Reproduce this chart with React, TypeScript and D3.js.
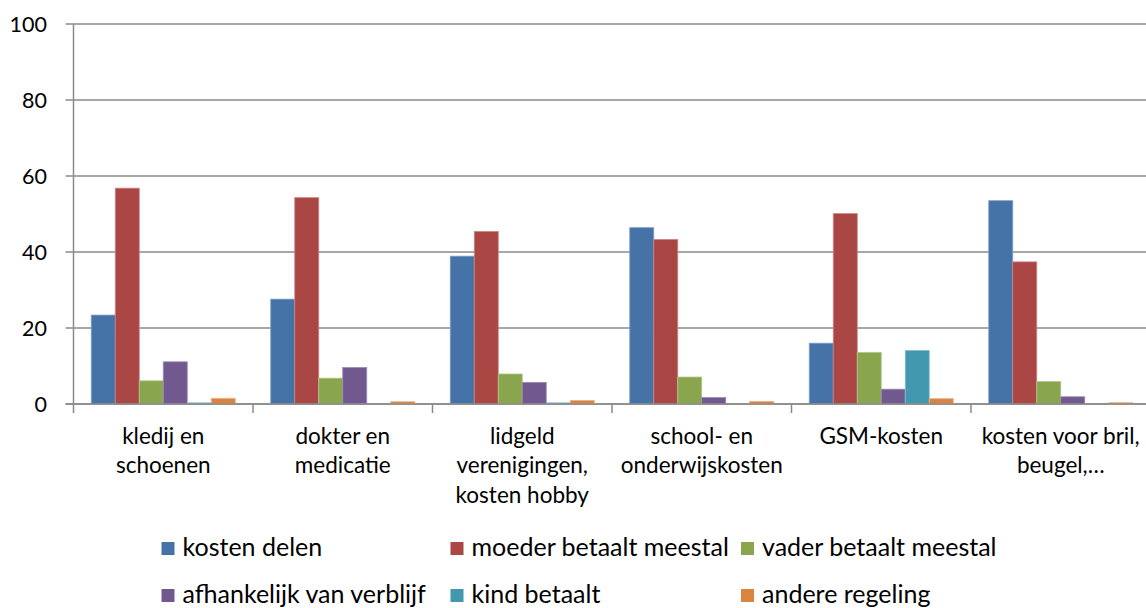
import React from "react";
import * as d3 from "d3";

const categories: string[][] = [
  ["kledij en", "schoenen"],
  ["dokter en", "medicatie"],
  ["lidgeld", "verenigingen,", "kosten hobby"],
  ["school- en", "onderwijskosten"],
  ["GSM-kosten"],
  ["kosten voor bril,", "beugel,…"],
];
const categoryKeys = ["c1", "c2", "c3", "c4", "c5", "c6"];

const seriesNames = [
  "kosten delen",
  "moeder betaalt meestal",
  "vader betaalt meestal",
  "afhankelijk van verblijf",
  "kind betaalt",
  "andere regeling",
];
const seriesColors = ["#4572A7", "#AA4643", "#89A54E", "#71588F", "#4198AF", "#DB843D"];
const seriesStroke = ["#7f9ec6", "#c98684", "#b1c98f", "#9d89b6", "#86c0d0", "#eab48a"];

const kostenDelen = [23.4, 27.6, 38.9, 46.4, 16.0, 53.5];
const moederBetaalt = [56.8, 54.3, 45.4, 43.3, 50.1, 37.4];
const vaderBetaalt = [6.1, 6.8, 7.9, 7.1, 13.6, 5.9];
const afhankelijk = [11.1, 9.6, 5.7, 1.7, 3.9, 1.9];
const kindBetaalt = [0.3, 0, 0.3, 0, 14.1, 0];
const andereRegeling = [1.5, 0.6, 0.95, 0.7, 1.4, 0.35];

const seriesValues = [kostenDelen, moederBetaalt, vaderBetaalt, afhankelijk, kindBetaalt, andereRegeling];

const yTicks = [0, 20, 40, 60, 80, 100];

const W = 1146;
const H = 608;
const left = 73.5;
const right = 1150.5;
const top = 24;
const bottom = 404;
const font = "Lato, 'Open Sans', sans-serif";
const grid = "#8a8a8a";

export default function App() {
  const x0 = d3.scaleBand<string>().domain(categoryKeys).range([left, right]).padding(0);
  const x1 = d3
    .scaleBand<number>()
    .domain(d3.range(seriesNames.length))
    .range([0, x0.bandwidth()])
    .paddingInner(0)
    .paddingOuter(0.74);
  const y = d3.scaleLinear().domain([0, 100]).range([bottom, top]);

  const legendCols = [161.5, 450.5, 741];
  const legendRows = [548.5, 595.5];

  return (
    <svg
      width={W}
      height={H}
      style={{ position: "absolute", left: 0, top: 0, background: "#fff" }}
      fontFamily={font}
    >
      {/* gridlines */}
      {yTicks.map((t) => (
        <g key={"g" + t}>
          <line x1={left - 8} x2={right} y1={y(t)} y2={y(t)} stroke={grid} strokeWidth={1.5} />
          <text x={47} y={y(t)} dy="0.35em" textAnchor="end" fontSize={21.5} fill="#000">
            {t}
          </text>
        </g>
      ))}
      {/* y axis */}
      <line x1={left} x2={left} y1={top} y2={bottom} stroke={grid} strokeWidth={1.5} />
      {/* x ticks */}
      {categoryKeys.map((k) => (
        <line
          key={"t" + k}
          x1={x0(k)!}
          x2={x0(k)!}
          y1={bottom}
          y2={bottom + 9}
          stroke={grid}
          strokeWidth={1.5}
        />
      ))}
      {/* bars */}
      {categoryKeys.map((k, ci) =>
        seriesValues.map((vals, si) => {
          const v = vals[ci];
          if (v <= 0) return null;
          const bx = x0(k)! + x1(si)!;
          return (
            <rect
              key={k + si}
              x={bx}
              y={y(v)}
              width={x1.bandwidth()}
              height={bottom - y(v)}
              fill={seriesColors[si]}
              stroke={seriesStroke[si]}
              strokeWidth={0.8}
            />
          );
        })
      )}
      {/* baseline over bars */}
      <line x1={left - 8} x2={right} y1={bottom} y2={bottom} stroke={grid} strokeWidth={1.5} />
      {/* category labels */}
      {categoryKeys.map((k, ci) => (
        <text
          key={"l" + k}
          x={x0(k)! + x0.bandwidth() / 2}
          y={436}
          textAnchor="middle"
          fontSize={22.5}
          fill="#000"
        >
          {categories[ci].map((line, li) => (
            <tspan key={li} x={x0(k)! + x0.bandwidth() / 2} y={436 + li * 29.5} dy="0.35em">
              {line}
            </tspan>
          ))}
        </text>
      ))}
      {/* legend */}
      {seriesNames.map((name, i) => {
        const cx = legendCols[i % 3];
        const cy = legendRows[Math.floor(i / 3)];
        return (
          <g key={"lg" + i}>
            <rect x={cx} y={cy - 6.5} width={13} height={13} fill={seriesColors[i]} />
            <text x={cx + 21} y={cy + 7.5} fontSize={25} fill="#000">
              {name}
            </text>
          </g>
        );
      })}
    </svg>
  );
}
